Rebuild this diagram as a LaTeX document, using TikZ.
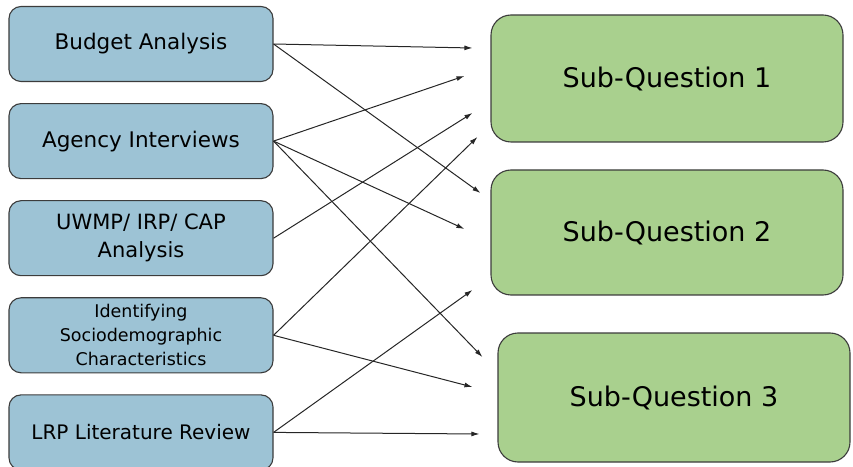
\documentclass[tikz,border=0pt]{standalone}
\usepackage{fontspec}
\setmainfont{DejaVu Sans}
\usetikzlibrary{positioning,arrows.meta}
\definecolor{srcblue}{HTML}{9DC3D5}
\definecolor{sqgreen}{HTML}{A9D08E}
\definecolor{edge}{HTML}{3C3C3C}
\begin{document}
\begin{tikzpicture}
  [x=1pt, y=1pt, node distance=21pt,
   every node/.style={draw=edge, line width=1.1pt, align=center, text=black},
   src/.style={fill=srcblue, rounded corners=12pt, minimum width=264pt, minimum height=75pt,
               font=\fontsize{21.5}{28}\selectfont},
   subq/.style={fill=sqgreen, rounded corners=20pt, minimum width=352pt, minimum height=127pt,
                font=\fontsize{27}{32}\selectfont},
   arr/.style={-{Latex[length=8pt,width=5pt]}, line width=1pt, black!85}]
  \useasboundingbox (0,0) rectangle (853,466);
  % left: the sources
  \node[src] (ba) at (141,422) {Budget Analysis};
  \node[src, below=of ba] (ai) {Agency Interviews};
  \node[src, below=of ai, font=\fontsize{21}{28}\selectfont] (uw) {UWMP/ IRP/ CAP\\Analysis};
  \node[src, below=of uw, font=\fontsize{17.5}{24}\selectfont] (id) {Identifying\\Sociodemographic\\Characteristics};
  \node[src, below=of id, font=\fontsize{20}{28}\selectfont] (lr) {LRP Literature Review};
  % right: the sub-questions
  \node[subq] (sq1) at (667,387.5) {Sub-Question 1};
  \node[subq, minimum height=125pt] (sq2) at (667,233.5) {Sub-Question 2};
  \node[subq, minimum height=129pt] (sq3) at (674,68.5) {Sub-Question 3};
  % links
  \draw[arr] (ba.east) -- ([shift={(-18pt,30.5pt)}]sq1.west);
  \draw[arr] (ba.east) -- ([shift={(-10pt,39.5pt)}]sq2.west);
  \draw[arr] (ai.east) -- ([shift={(-26pt,2.5pt)}]sq1.west);
  \draw[arr] (ai.east) -- ([shift={(-26pt,3.5pt)}]sq2.west);
  \draw[arr] (ai.east) -- ([shift={(-15pt,40.5pt)}]sq3.west);
  \draw[arr] (uw.east) -- ([shift={(-18pt,-34.5pt)}]sq1.west);
  \draw[arr] (id.east) -- ([shift={(-13pt,-58.5pt)}]sq1.west);
  \draw[arr] (id.east) -- ([shift={(-25pt,10.5pt)}]sq3.west);
  \draw[arr] (lr.east) -- ([shift={(-18pt,-57.5pt)}]sq2.west);
  \draw[arr] (lr.east) -- ([shift={(-18pt,-36.5pt)}]sq3.west);
\end{tikzpicture}
\end{document}
